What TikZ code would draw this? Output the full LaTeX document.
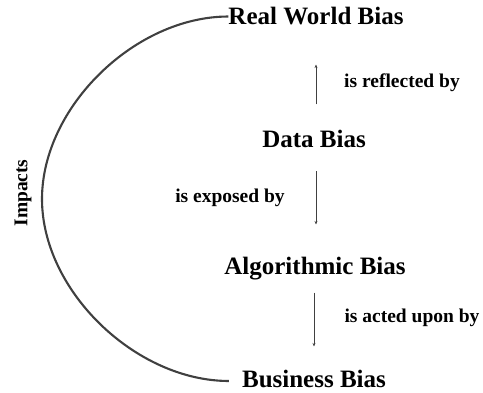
\documentclass[tikz,border=0pt]{standalone}
\usepackage{fontspec}
\setmainfont{Liberation Serif}
\usetikzlibrary{arrows.meta}
\begin{document}
\begin{tikzpicture}[x=1pt,y=-1pt,
  biasnode/.style={inner sep=0pt, anchor=base, font=\fontsize{25}{30}\selectfont\bfseries, text=black},
  lbl/.style={inner sep=0pt, anchor=base, font=\fontsize{19.5}{24}\selectfont\bfseries, text=black},
  arr/.style={draw=black!75, line width=0.9pt, -{Stealth[length=3.5pt,width=3pt]}},
  arcline/.style={draw=black!75, line width=2.1pt}]
\useasboundingbox (0,0) rectangle (483,393);
\node[biasnode] (rw) at (316,25) {Real World Bias};
\node[biasnode] (db) at (314,148) {Data Bias};
\node[biasnode] (ab) at (315,275) {Algorithmic Bias};
\node[biasnode] (bb) at (314,388) {Business Bias};
\node[lbl] (l1) at (402,88) {is reflected by};
\node[lbl] (l2) at (230,203) {is exposed by};
\node[lbl] (l3) at (412,323) {is acted upon by};
\coordinate (imp) at (42,199);
\node[lbl, anchor=center, rotate=90] (il) at (23,193) {Impacts};
\draw[arr, shorten <=26pt, shorten >=39pt] ([xshift=2pt]db.north) -- ([xshift=2pt]db.north |- rw.south);
\draw[arr, shorten <=23pt, shorten >=33pt] ([xshift=2pt]db.south) -- ([xshift=2pt]db.south |- ab.north);
\draw[arr, shorten <=12pt, shorten >=24pt] (ab.south -| bb.north) -- (bb.north);
\draw[arcline] (rw.west) .. controls +(-93,0) and +(0,-92) .. (imp)
  .. controls +(0,92) and +(-93,0) .. ([xshift=-13pt,yshift=7pt]bb.base west);
\end{tikzpicture}
\end{document}
